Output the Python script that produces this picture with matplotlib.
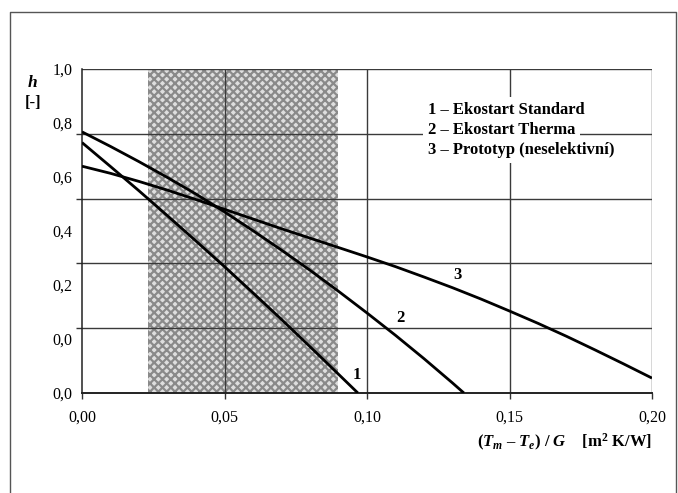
import numpy as np
import matplotlib
matplotlib.use("Agg")
import matplotlib.pyplot as plt
from matplotlib.patches import Rectangle
from matplotlib.lines import Line2D

plt.rcParams['font.family'] = ['Liberation Serif', 'DejaVu Serif']
plt.rcParams['mathtext.fontset'] = 'custom'
plt.rcParams['mathtext.rm'] = 'Liberation Serif:bold'
plt.rcParams['mathtext.it'] = 'Liberation Serif:italic:bold'
plt.rcParams['mathtext.bf'] = 'Liberation Serif:bold'
plt.rcParams['hatch.linewidth'] = 1.6

# ---- data ----
x1 = [0.0, 0.01, 0.02, 0.03, 0.04, 0.05, 0.06, 0.07, 0.08, 0.09, 0.0968]
y1 = [0.773, 0.699, 0.624, 0.547, 0.469, 0.390, 0.309, 0.227, 0.143, 0.058, 0.0]

x2 = [0.0, 0.01, 0.02, 0.03, 0.04, 0.05, 0.06, 0.07, 0.08, 0.09, 0.10, 0.11, 0.12, 0.13, 0.134]
y2 = [0.806, 0.761, 0.714, 0.665, 0.614, 0.559, 0.501, 0.441, 0.379, 0.314, 0.247, 0.178, 0.106, 0.031, 0.0]

x3 = [0.0, 0.01, 0.02, 0.03, 0.04, 0.05, 0.06, 0.07, 0.08, 0.09, 0.10,
      0.11, 0.12, 0.13, 0.14, 0.15, 0.16, 0.17, 0.18, 0.19, 0.20]
y3 = [0.700, 0.678, 0.653, 0.626, 0.597, 0.567, 0.537, 0.507, 0.478, 0.449, 0.420,
      0.390, 0.358, 0.325, 0.290, 0.253, 0.215, 0.175, 0.133, 0.090, 0.046]

series_labels = ["1", "2", "3"]
legend_lines = ["1 \u2013 Ekostart Standard",
                "2 \u2013 Ekostart Therma",
                "3 \u2013 Prototyp (neselektivn\u00ed)"]

band = (0.0232, 0.0898)          # shaded operating range
x_ticks = [0.0, 0.05, 0.10, 0.15, 0.20]
x_ticklabels = ["0,00", "0,05", "0,10", "0,15", "0,20"]
grid_y = [0.0, 0.2, 0.4, 0.6, 0.8, 1.0]
ylabel_pos = [0, 1/6, 2/6, 3/6, 4/6, 5/6, 1.0]
ylabel_txt = ["0,0", "0,0", "0,2", "0,4", "0,6", "0,8", "1,0"]

# ---- figure ----
W, H = 678, 493
fig = plt.figure(figsize=(W/100, H/100), dpi=100)
ax = fig.add_axes([82/W, 1-393/H, (652-82)/W, (393-69)/H])
ax.set_xlim(0, 0.20)
ax.set_ylim(0, 1.0)

# outer frame
fig.add_artist(Line2D([10/W, 10/W, 676/W, 676/W], [0, 1-12/H, 1-12/H, 0],
                      transform=fig.transFigure, color='#555555', lw=1.0))

# shaded band
ax.add_patch(Rectangle((band[0], 0), band[1]-band[0], 1.0, facecolor='#dedede',
                       edgecolor='#8a8a8a', hatch='xxxx', lw=0, zorder=0.5))

# grid
for gy in grid_y[1:]:
    ax.axhline(gy, color='#3a3a3a', lw=1.0, zorder=1)
for gx in x_ticks[1:]:
    ax.axvline(gx, color='#3a3a3a', lw=1.0, zorder=1)

for s in ['top', 'right']:
    ax.spines[s].set_visible(False)
ax.spines['left'].set_color('#222222')
ax.spines['bottom'].set_color('#222222')
ax.spines['left'].set_linewidth(1.1)
ax.spines['bottom'].set_linewidth(1.4)

# curves
for xs, ys in [(x1, y1), (x2, y2), (x3, y3)]:
    ax.plot(xs, ys, color='black', lw=2.0, zorder=3, solid_capstyle='butt')

# ticks
ax.set_xticks(x_ticks)
ax.set_xticklabels(x_ticklabels, fontsize=11.5)
ax.tick_params(axis='x', length=4, width=1, pad=8, color='#333333')
ax.set_yticks(ylabel_pos)
ax.set_yticklabels(ylabel_txt, fontsize=11.5)
ax.tick_params(axis='y', which='major', length=0, pad=7)
ax.set_yticks(grid_y, minor=True)
ax.tick_params(axis='y', which='minor', length=4, width=1, color='#333333')

# curve numbers
for lab, (lx, ly) in zip(series_labels, [(0.0965, 0.056), (0.1116, 0.231), (0.1316, 0.364)]):
    ax.text(lx, ly, lab, fontsize=12, fontweight='bold', ha='center', va='center', zorder=4)

# legend text block
for i, t in enumerate(legend_lines):
    ax.text(0.1215, 0.873 - 0.062*i, t, fontsize=12, fontweight='bold', ha='left',
            va='center', zorder=4,
            bbox=dict(facecolor='white', edgecolor='none', pad=3.5))

# axis titles
fig.text(32/W, 1-83/H, "h", fontsize=12.5, fontweight='bold', style='italic',
         ha='center', va='center')
fig.text(33/W, 1-103/H, "[-]", fontsize=12, fontweight='bold', ha='center', va='center')
fig.text(652/W, 1-442/H, "($T_m$ \u2013 $T_e$) / $G$    [m$^2$ K/W]",
         fontsize=12, fontweight='bold', ha='right', va='center')

fig.savefig("out.png", dpi=100)
